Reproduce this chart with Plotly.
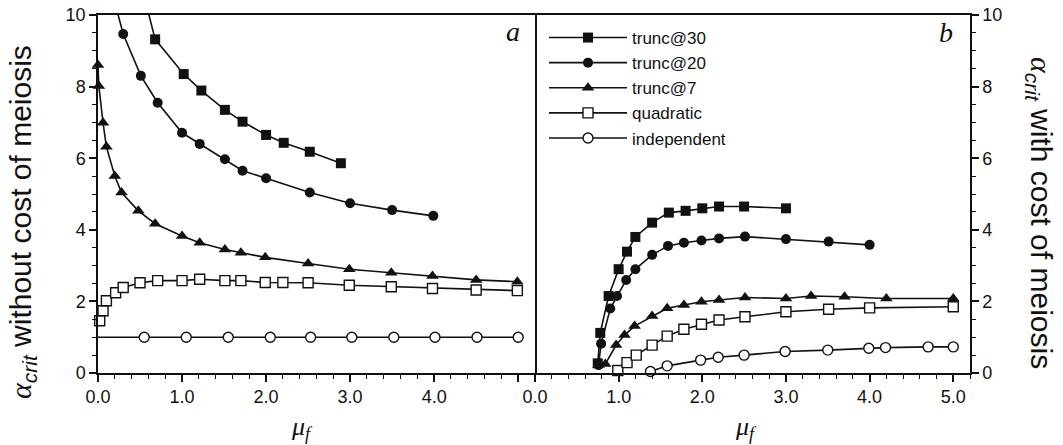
import plotly.graph_objects as go

# ---------------- data: panel a (without cost of meiosis) ----------------
a_t30_x = [0.52, 0.68, 1.02, 1.23, 1.51, 1.72, 2.00, 2.21, 2.52, 2.89]
a_t30_y = [10.8, 9.32, 8.35, 7.89, 7.35, 7.02, 6.65, 6.43, 6.18, 5.86]

a_t20_x = [0.20, 0.30, 0.51, 0.71, 1.00, 1.21, 1.51, 1.72, 2.00, 2.52, 3.00, 3.50, 3.99]
a_t20_y = [10.35, 9.47, 8.30, 7.55, 6.71, 6.40, 5.97, 5.65, 5.44, 5.04, 4.74, 4.55, 4.39]

a_t7_x = [0.00, 0.01, 0.06, 0.10, 0.20, 0.28, 0.48, 0.68, 1.00, 1.21, 1.51, 1.70, 1.99,
          2.50, 2.99, 3.49, 3.98, 4.50, 4.99]
a_t7_y = [8.60, 8.02, 6.99, 6.32, 5.50, 5.04, 4.53, 4.17, 3.83, 3.64, 3.45, 3.36, 3.23,
          3.06, 2.90, 2.80, 2.71, 2.60, 2.55]

a_quad_x = [0.02, 0.06, 0.10, 0.21, 0.30, 0.50, 0.71, 1.00, 1.21, 1.51, 1.70, 1.99, 2.20,
            2.50, 2.99, 3.49, 3.98, 4.50, 4.99]
a_quad_y = [1.46, 1.74, 2.02, 2.24, 2.39, 2.52, 2.58, 2.58, 2.62, 2.58, 2.58, 2.53, 2.53,
            2.52, 2.45, 2.41, 2.36, 2.32, 2.30]

a_ind_x = [0.00, 0.55, 1.05, 1.55, 2.05, 2.53, 3.02, 3.52, 4.01, 4.51, 5.00]
a_ind_y = [1.0, 1.0, 1.0, 1.0, 1.0, 1.0, 1.0, 1.0, 1.0, 1.0, 1.0]

# ---------------- data: panel b (with cost of meiosis) ----------------
b_t30_x = [0.75, 0.78, 0.88, 1.00, 1.10, 1.20, 1.40, 1.60, 1.80, 2.00, 2.20, 2.50, 3.00]
b_t30_y = [0.27, 1.12, 2.15, 2.90, 3.39, 3.80, 4.20, 4.48, 4.53, 4.60, 4.65, 4.65, 4.60]

b_t20_x = [0.76, 0.79, 0.90, 0.98, 1.09, 1.20, 1.40, 1.59, 1.78, 1.99, 2.20, 2.51, 3.00,
           3.51, 4.00]
b_t20_y = [0.22, 0.82, 1.80, 2.15, 2.60, 2.90, 3.30, 3.55, 3.64, 3.70, 3.76, 3.81, 3.74,
           3.67, 3.58]

b_t7_x = [0.76, 0.84, 0.97, 1.07, 1.19, 1.40, 1.58, 1.78, 1.99, 2.20, 2.51, 3.00, 3.30,
          3.70, 4.20, 5.00]
b_t7_y = [0.22, 0.25, 0.78, 1.06, 1.31, 1.59, 1.81, 1.90, 1.99, 2.04, 2.11, 2.08, 2.15,
          2.13, 2.08, 2.08]

b_quad_x = [0.99, 1.10, 1.21, 1.40, 1.58, 1.78, 1.99, 2.20, 2.51, 3.00, 3.51, 4.00, 5.00]
b_quad_y = [0.07, 0.29, 0.50, 0.78, 1.03, 1.22, 1.36, 1.48, 1.57, 1.71, 1.78, 1.82, 1.85]

b_ind_x = [1.38, 1.58, 1.98, 2.19, 2.50, 2.99, 3.50, 3.99, 4.19, 4.70, 5.00]
b_ind_y = [0.04, 0.20, 0.36, 0.44, 0.50, 0.60, 0.64, 0.69, 0.71, 0.73, 0.73]

names = ["trunc@30", "trunc@20", "trunc@7", "quadratic", "independent"]
x_tickvals = [0, 1, 2, 3, 4, 5]
a_ticktext = ["0.0", "1.0", "2.0", "3.0", "4.0", ""]
b_ticktext = ["0.0", "1.0", "2.0", "3.0", "4.0", "5.0"]
y_tickvals = [0, 2, 4, 6, 8, 10]

# ---------------- styles ----------------
INK = "#111111"
styles = {
    "trunc@30": dict(symbol="square", size=10, color=INK, opacity=1, line=dict(width=0, color=INK)),
    "trunc@20": dict(symbol="circle", size=10, color=INK, opacity=1, line=dict(width=0, color=INK)),
    "trunc@7": dict(symbol="triangle-up", size=11, color=INK, opacity=1, line=dict(width=0, color=INK)),
    "quadratic": dict(symbol="square", size=10, color="white", opacity=1, line=dict(width=1.4, color=INK)),
    "independent": dict(symbol="circle", size=10, color="white", opacity=1, line=dict(width=1.4, color=INK)),
}

fig = go.Figure()

panel_a = [(a_t30_x, a_t30_y), (a_t20_x, a_t20_y), (a_t7_x, a_t7_y),
           (a_quad_x, a_quad_y), (a_ind_x, a_ind_y)]
panel_b = [(b_t30_x, b_t30_y), (b_t20_x, b_t20_y), (b_t7_x, b_t7_y),
           (b_quad_x, b_quad_y), (b_ind_x, b_ind_y)]

for name, (xs, ys) in zip(names, panel_a):
    st = dict(styles[name])
    # hide markers for points that only carry the line (outside range / axis start)
    sizes = [0 if (y > 10 or (name == "independent" and x == 0)) else st["size"]
             for x, y in zip(xs, ys)]
    st["size"] = sizes
    fig.add_trace(go.Scatter(x=xs, y=ys, mode="lines+markers", name=name,
                             line=dict(color=INK, width=1.6), marker=st,
                             showlegend=False, cliponaxis=False,
                             xaxis="x", yaxis="y"))

for name, (xs, ys) in zip(names, panel_b):
    fig.add_trace(go.Scatter(x=xs, y=ys, mode="lines+markers", name=name,
                             line=dict(color=INK, width=1.6), marker=styles[name],
                             showlegend=True, cliponaxis=False,
                             xaxis="x2", yaxis="y2"))

SANS = "Liberation Sans, Arial, sans-serif"
SERIF = "Liberation Serif, Times New Roman, serif"
tickfont = dict(family=SANS, size=18, color=INK)

xcommon = dict(range=[0, 5.2], showline=True, linecolor=INK, linewidth=1.5, mirror=True,
               ticks="outside", ticklen=7, tickwidth=1.5, tickcolor=INK, automargin=False,
               tickvals=x_tickvals, tickfont=tickfont, showgrid=False, zeroline=False,
               minor=dict(dtick=0.2, tick0=0, ticks="outside", ticklen=4, tickwidth=1.2,
                          tickcolor=INK, showgrid=False))
ycommon = dict(range=[0, 10], showline=True, linecolor=INK, linewidth=1.5,
               ticks="outside", ticklen=7, tickwidth=1.5, tickcolor=INK, automargin=False,
               tickvals=y_tickvals, tickfont=tickfont, showgrid=False, zeroline=False,
               minor=dict(dtick=0.5, tick0=0, ticks="outside", ticklen=4, tickwidth=1.2,
                          tickcolor=INK, showgrid=False))

W, H = 1063, 445
xa_dom = [98 / W, 535 / W]
xb_dom = [535 / W, 970 / W]
y_dom = [1 - 373 / H, 1 - 15 / H]

fig.update_layout(
    width=W, height=H, margin=dict(l=0, r=0, t=0, b=0, pad=0, autoexpand=False),
    paper_bgcolor="white", plot_bgcolor="white",
    xaxis=dict(domain=xa_dom, anchor="y", ticktext=a_ticktext, **xcommon),
    xaxis2=dict(domain=xb_dom, anchor="y2", ticktext=b_ticktext, **xcommon),
    yaxis=dict(domain=y_dom, anchor="x", side="left", mirror=True, **ycommon),
    yaxis2=dict(domain=y_dom, anchor="x2", side="right", mirror=False, **ycommon),
    legend=dict(x=544 / W, y=1 - 20 / H, xanchor="left", yanchor="top",
                font=dict(family=SANS, size=17, color=INK), bgcolor="rgba(0,0,0,0)",
                itemwidth=78, tracegroupgap=0),
    font=dict(family=SANS, color=INK),
)

alpha_lbl = ('<span style="font-family:Liberation Serif;font-style:italic">α</span>'
             '<sub><i>crit</i></sub>')
fig.add_annotation(text=alpha_lbl + " without cost of meiosis", xref="paper", yref="paper",
                   x=22 / W, y=1 - 222 / H, xanchor="center", yanchor="middle",
                   textangle=-90, showarrow=False, font=dict(family=SANS, size=30, color=INK))
fig.add_annotation(text=alpha_lbl + " with cost of meiosis", xref="paper", yref="paper",
                   x=1040 / W, y=1 - 213 / H, xanchor="center", yanchor="middle",
                   textangle=90, showarrow=False, font=dict(family=SANS, size=30, color=INK))

mu_lbl = "<i>μ<sub>f</sub></i>"
for xc in (302, 746):
    fig.add_annotation(text=mu_lbl, xref="paper", yref="paper", x=xc / W, y=1 - 428 / H,
                       xanchor="center", yanchor="middle", showarrow=False,
                       font=dict(family=SERIF, size=26, color=INK))

for letter, xc, yc in (("a", 513, 31), ("b", 946, 32)):
    fig.add_annotation(text="<i>" + letter + "</i>", xref="paper", yref="paper",
                       x=xc / W, y=1 - yc / H, xanchor="center", yanchor="middle",
                       showarrow=False, font=dict(family=SERIF, size=28, color=INK))

# the page's default 8px body margin would shift the figure; remove it
fig.write_html("out.html", config={"displayModeBar": False},
               post_script="document.body.style.margin='0';")
